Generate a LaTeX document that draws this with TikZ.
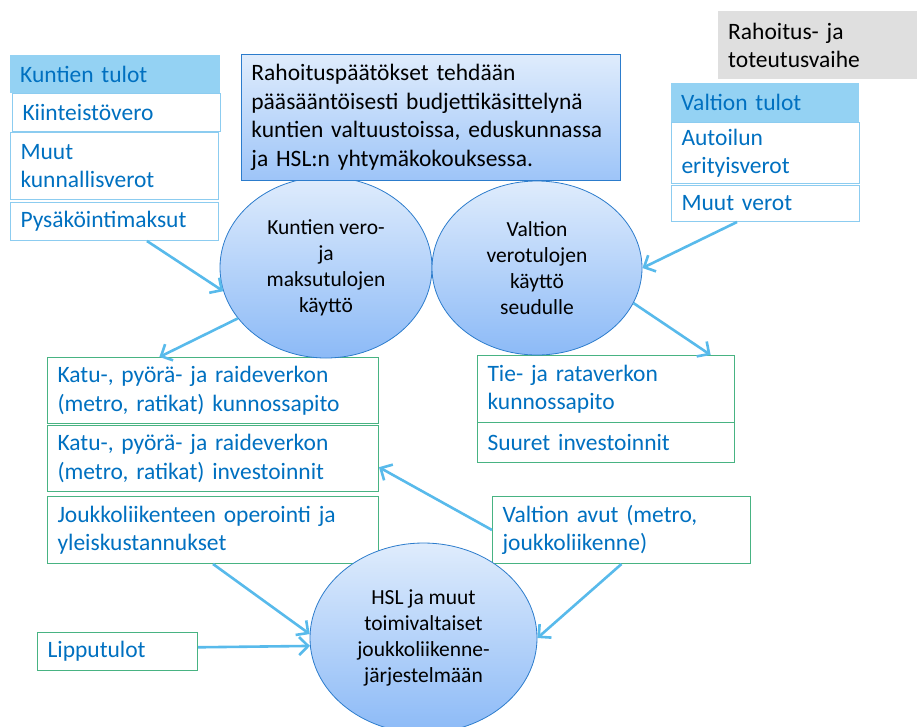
\documentclass[tikz,border=0pt]{standalone}
\usepackage{fontspec}
\setmainfont{Carlito}
\usetikzlibrary{shapes.geometric, arrows.meta}
\definecolor{HdrBlue}{RGB}{148,210,243}
\definecolor{LstBlue}{RGB}{140,204,240}
\definecolor{TxtBlue}{RGB}{0,112,192}
\definecolor{BoxGreen}{RGB}{72,179,130}
\definecolor{ArrBlue}{RGB}{88,186,235}
\definecolor{OvalTop}{RGB}{223,236,252}
\definecolor{OvalBot}{RGB}{140,186,247}
\definecolor{OvalLine}{RGB}{44,124,204}
\definecolor{NoteGray}{RGB}{223,223,223}

\begin{document}
\begin{tikzpicture}[x=1pt, y=-1pt,
          bx/.style 2 args={anchor=north west, text width=#1, minimum height=#2,
                     inner xsep=10pt, inner ysep=0pt, align=left,
                     font=\fontsize{23.5}{28.5}\selectfont},
          hdr/.style={fill=HdrBlue, text=TxtBlue},
          lst/.style={draw=LstBlue, line width=1pt, text=TxtBlue},
          grn/.style={draw=BoxGreen, line width=1pt, text=TxtBlue},
          oval/.style={ellipse, draw=OvalLine, line width=0.8pt, top color=OvalTop,
                     bottom color=OvalBot, inner sep=0pt, align=center,
                     font=\fontsize{21.5}{26}\selectfont},
          arr/.style={-{Straight Barb[length=9pt, width=18pt]}, draw=ArrBlue, line width=2.6pt}
        ]
        \useasboundingbox (0,0) rectangle (917,726);

        % municipal income
        \node[bx={190pt}{38pt}, hdr] (kt)  at (10,55)  {Kuntien tulot};
        \node[bx={188pt}{38pt}, lst] (kv)  at (12,93)  {Kiinteistövero};
        \node[bx={188pt}{67pt}, lst] (mk)  at (10,132) {Muut\\kunnallisverot};
        \node[bx={188pt}{38pt}, lst] (pys) at (10,202) {Pysäköintimaksut};

        % state income
        \node[bx={179pt}{68pt}, fill=NoteGray] (gv) at (718,11) {Rahoitus- ja\\toteutusvaihe};
        \node[bx={168pt}{39pt}, hdr] (vt) at (671,83)  {Valtion tulot};
        \node[bx={168pt}{61pt}, lst] (ae) at (671,122) {Autoilun\\erityisverot};
        \node[bx={168pt}{36pt}, lst] (mv) at (671,185) {Muut verot};

        % spending
        \node[bx={311pt}{66pt}, grn] (kk) at (47,357) {Katu-, pyörä- ja raideverkon\\(metro, ratikat) kunnossapito};
        \node[bx={311pt}{66pt}, grn] (ki) at (47,425) {Katu-, pyörä- ja raideverkon\\(metro, ratikat) investoinnit};
        \node[bx={311pt}{67pt}, grn] (jo) at (47,496) {Joukkoliikenteen operointi ja\\yleiskustannukset};
        \node[bx={140pt}{38pt}, grn] (lp) at (37,632) {Lipputulot};
        \node[bx={237pt}{67pt}, grn] (tr) at (477,355) {Tie- ja rataverkon\\kunnossapito};
        \node[bx={237pt}{40pt}, grn] (si) at (477,422) {Suuret investoinnit};
        \node[bx={238pt}{67pt}, grn] (va) at (492,496) {Valtion avut (metro,\\joukkoliikenne)};

        % use of funds
        \node[oval, minimum width=212pt, minimum height=181pt] (e1) at (326,267.5)
              {Kuntien vero-\\ja\\maksutulojen\\käyttö};
        \node[oval, minimum width=210pt, minimum height=174pt] (e2) at (537,268)
              {Valtion\\verotulojen\\käyttö\\seudulle};
        \node[oval, minimum width=227pt, minimum height=190pt] (hsl) at (423.5,638)
              {HSL ja muut\\toimivaltaiset\\joukkoliikenne-\\järjestelmään};

        \node[bx={359pt}{126pt}, draw=OvalLine, line width=0.8pt, top color=OvalTop,
              bottom color=OvalBot!85] (rp) at (241,54)
              {Rahoituspäätökset tehdään\\pääsääntöisesti budjettikäsittelynä\\kuntien valtuustoissa, eduskunnassa\\ja HSL:n yhtymäkokouksessa.};

        \draw[arr] (pys.-31) -- (e1.193);
        \draw[arr] (e1.210)  -- (kk.148);
        \draw[arr] (mv.213)  -- (e2.east);
        \draw[arr] (e2.-20)  -- (tr.18);
        \draw[arr] (va.west) -- (ki.-3.5);
        \draw[arr] (jo.south) -- (hsl.178);
        \draw[arr] (lp.3)    -- (hsl.184);
        \draw[arr] (va.south) -- (hsl.east);
      \end{tikzpicture}
\end{document}
